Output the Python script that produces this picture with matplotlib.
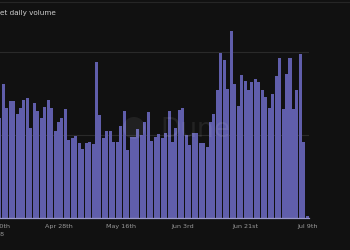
import matplotlib
matplotlib.use("Agg")
import matplotlib.pyplot as plt
import matplotlib.dates as mdates
from matplotlib.lines import Line2D
from matplotlib.patches import Circle
import datetime as dt

# ---- data ----
start_date = dt.date(2018, 4, 11)
volume = [121, 161, 133, 141, 141, 125, 133, 142, 144, 108,
          138, 129, 120, 134, 142, 132, 105, 116, 120, 131,
          94, 96, 99, 90, 83, 90, 92, 89, 188, 124,
          96, 105, 105, 91, 92, 111, 129, 82, 97, 97,
          107, 100, 116, 128, 93, 97, 101, 96, 102, 129,
          91, 109, 130, 133, 100, 88, 103, 103, 90, 90,
          86, 116, 125, 154, 199, 190, 155, 225, 162, 135,
          172, 165, 154, 164, 168, 164, 154, 146, 132, 150,
          171, 193, 131, 174, 193, 131, 154, 198, 92, 2]
tick_dates = [dt.date(2018, 4, 10), dt.date(2018, 4, 28), dt.date(2018, 5, 16),
              dt.date(2018, 6, 3), dt.date(2018, 6, 21), dt.date(2018, 7, 9)]
tick_labels = ["Apr 10th\n2018", "Apr 28th", "May 16th", "Jun 3rd", "Jun 21st", "Jul 9th"]
title = "et daily volume"

dates = [start_date + dt.timedelta(days=i) for i in range(len(volume))]

BG = "#111111"
BAR = "#605eab"

W, H = 350, 250
fig = plt.figure(figsize=(3.5, 2.5), dpi=100, facecolor=BG)

px_per_day = 3.455
right_px = 309
left_px = -30
bottom_px = 32
ytop = 232
px_per_unit = 0.83
height_px = ytop * px_per_unit

ax = fig.add_axes([left_px / W, bottom_px / H, (right_px - left_px) / W, height_px / H])
ax.set_facecolor(BG)

xnum = mdates.date2num(dates)
ax.bar(xnum, volume, width=0.87, color=BAR, linewidth=0, zorder=2)

xr = mdates.date2num(dates[-1]) + 0.5
ax.set_xlim(xr - (right_px - left_px) / px_per_day, xr)
ax.set_ylim(0, ytop)

ax.set_yticks([0, 100, 200])
ax.yaxis.grid(True, color="#2a2a2a", linewidth=0.8, zorder=0)
ax.set_axisbelow(True)
ax.tick_params(axis="y", length=0, labelleft=False)

ax.set_xticks(mdates.date2num(tick_dates))
ax.set_xticklabels(tick_labels, fontsize=4.6, color="#9a9a9a", linespacing=1.9)
ax.tick_params(axis="x", length=0, pad=4)

for s in ["top", "right", "left"]:
    ax.spines[s].set_visible(False)
ax.spines["bottom"].set_color("#9896c8")
ax.spines["bottom"].set_linewidth(0.9)
ax.spines["bottom"].set_zorder(3)

# watermark
ax_wm = fig.add_axes([0, 0, 1, 1], facecolor="none")
ax_wm.set_xlim(0, W)
ax_wm.set_ylim(H, 0)
ax_wm.axis("off")
ax_wm.add_patch(Circle((134, 128), 11, color="white", alpha=0.07, linewidth=0))
ax_wm.text(160, 130, "Dune", fontsize=19, color="white", alpha=0.08,
           ha="left", va="center")

# title and header line
fig.text(0 / W, 1 - 13 / H, title, fontsize=5.2, color="#cfcfcf", ha="left", va="center")
fig.add_artist(Line2D([0, 1], [1 - 2 / H, 1 - 2 / H], color="#262626", linewidth=0.8))

fig.savefig("out.png", dpi=100, facecolor=BG)
